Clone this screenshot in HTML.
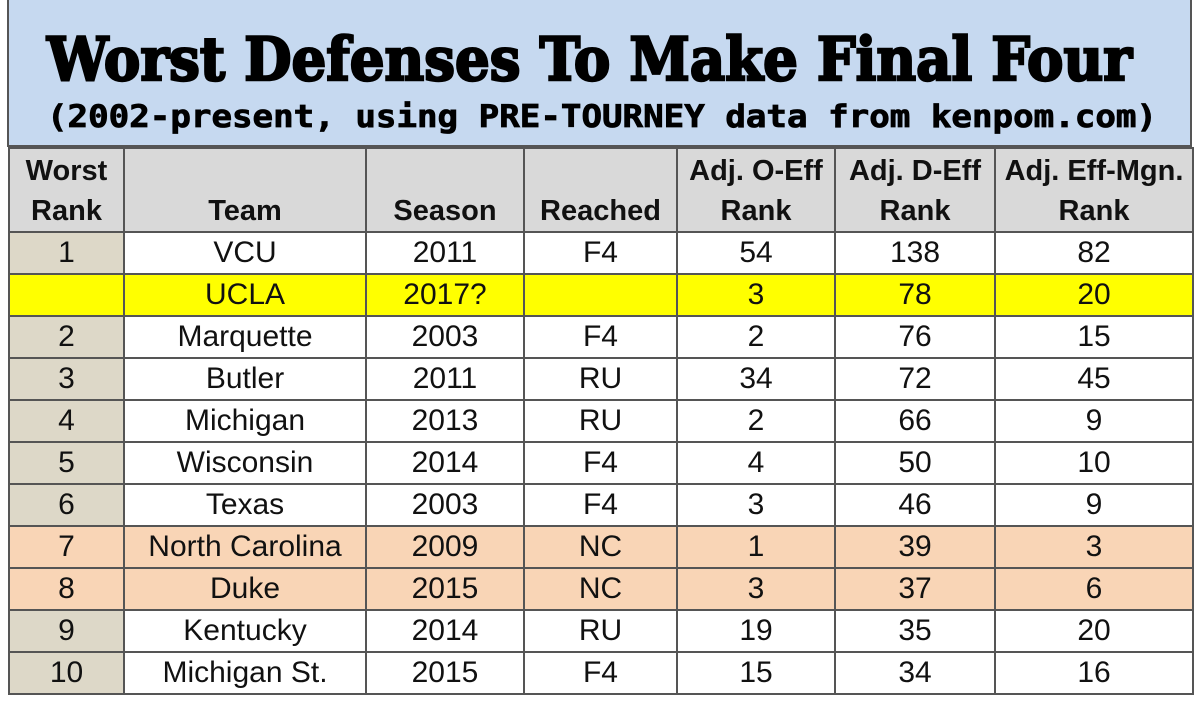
<!DOCTYPE html>
<html><head><meta charset="utf-8"><style>
body{margin:0;width:1200px;height:701px;background:#fff;position:relative;overflow:hidden;font-family:"Liberation Sans",sans-serif;}
#title{position:absolute;left:7px;top:0;width:1185px;height:147px;background:#c6d9f0;border:2px solid #555;border-top:none;box-sizing:border-box;}
table{position:absolute;left:8px;top:147px;border-collapse:collapse;table-layout:fixed;}
td{border:2px solid #555;text-align:center;font-size:30px;color:#111;height:40px;padding:0;line-height:40px;overflow:hidden;white-space:nowrap;}
tr.h td{background:#d9d9d9;font-weight:bold;font-size:29px;line-height:40px;height:82px;vertical-align:bottom;}
td.r{background:#ddd8c8;}
tr.y td{background:#ffff00;}
tr.p td{background:#f9d5b6;}
</style></head><body>
<div id="title"><svg width="1185" height="147">
<text x="38" y="80" textLength="1085" lengthAdjust="spacingAndGlyphs" font-family="DejaVu Serif" font-weight="bold" font-size="60" fill="#000" stroke="#000" stroke-width="2.5">Worst Defenses To Make Final Four</text>
<text x="38" y="127" textLength="1110" lengthAdjust="spacingAndGlyphs" font-family="DejaVu Sans Mono" font-weight="bold" font-size="31" fill="#000" stroke="#000" stroke-width="0.8">(2002-present, using PRE-TOURNEY data from kenpom.com)</text>
</svg></div>
<table>
<colgroup><col style="width:115px"><col style="width:242px"><col style="width:158px"><col style="width:153px"><col style="width:158px"><col style="width:160px"><col style="width:198px"></colgroup>
<tr class="h"><td>Worst<br>Rank</td><td>Team</td><td>Season</td><td>Reached</td><td>Adj. O-Eff<br>Rank</td><td>Adj. D-Eff<br>Rank</td><td>Adj. Eff-Mgn.<br>Rank</td></tr>
<tr><td class="r">1</td><td>VCU</td><td>2011</td><td>F4</td><td>54</td><td>138</td><td>82</td></tr>
<tr class="y"><td></td><td>UCLA</td><td>2017?</td><td></td><td>3</td><td>78</td><td>20</td></tr>
<tr><td class="r">2</td><td>Marquette</td><td>2003</td><td>F4</td><td>2</td><td>76</td><td>15</td></tr>
<tr><td class="r">3</td><td>Butler</td><td>2011</td><td>RU</td><td>34</td><td>72</td><td>45</td></tr>
<tr><td class="r">4</td><td>Michigan</td><td>2013</td><td>RU</td><td>2</td><td>66</td><td>9</td></tr>
<tr><td class="r">5</td><td>Wisconsin</td><td>2014</td><td>F4</td><td>4</td><td>50</td><td>10</td></tr>
<tr><td class="r">6</td><td>Texas</td><td>2003</td><td>F4</td><td>3</td><td>46</td><td>9</td></tr>
<tr class="p"><td class="r">7</td><td>North Carolina</td><td>2009</td><td>NC</td><td>1</td><td>39</td><td>3</td></tr>
<tr class="p"><td class="r">8</td><td>Duke</td><td>2015</td><td>NC</td><td>3</td><td>37</td><td>6</td></tr>
<tr><td class="r">9</td><td>Kentucky</td><td>2014</td><td>RU</td><td>19</td><td>35</td><td>20</td></tr>
<tr><td class="r">10</td><td>Michigan St.</td><td>2015</td><td>F4</td><td>15</td><td>34</td><td>16</td></tr>
</table>
</body></html>
